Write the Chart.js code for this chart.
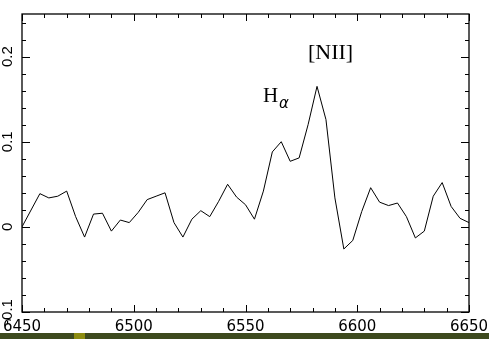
<!DOCTYPE html>
<html>
<head>
<meta charset="utf-8">
<script src="https://cdn.jsdelivr.net/npm/chart.js@4.4.1/dist/chart.umd.min.js"></script>
<style>
  html, body { margin: 0; padding: 0; background: #fff; }
  #wrap { position: relative; width: 489px; height: 339px; }
  #bar { position: absolute; left: 0; top: 333px; width: 489px; height: 6px; background: #3d4a1e; }
  #bar span { position: absolute; left: 74px; width: 11px; height: 6px; background: #8c8c10; }
</style>
</head>
<body>
<div id="wrap">
  <canvas id="chart" width="489" height="339"></canvas>
  <div id="bar"><span></span></div>
</div>
<script>
// wavelength (Angstrom) and flux
const wavelengths = [6450, 6458, 6462, 6466, 6470, 6474, 6478, 6482, 6486, 6490,
  6494, 6498, 6502, 6506, 6510, 6514, 6518, 6522, 6526, 6530,
  6534, 6538, 6542, 6546, 6550, 6554, 6558, 6562, 6566, 6570,
  6574, 6578, 6582, 6586, 6590, 6594, 6598, 6602, 6606, 6610,
  6614, 6618, 6622, 6626, 6630, 6634, 6638, 6642, 6646, 6650];
const flux = [0.0, 0.039, 0.034, 0.036, 0.042, 0.012, -0.012, 0.015, 0.016, -0.005,
  0.008, 0.005, 0.017, 0.032, 0.036, 0.040, 0.005, -0.012, 0.009, 0.019,
  0.012, 0.030, 0.050, 0.035, 0.026, 0.009, 0.042, 0.088, 0.100, 0.077,
  0.081, 0.120, 0.165, 0.126, 0.034, -0.026, -0.016, 0.018, 0.046, 0.029,
  0.025, 0.028, 0.012, -0.013, -0.005, 0.036, 0.052, 0.024, 0.010, 0.005];

const xTicks = [6450, 6500, 6550, 6600, 6650];
const yTicks = [-0.1, 0, 0.1, 0.2];
const yLabels = ["-0.1", "0", "0.1", "0.2"];

// frame, inward ticks and labels, drawn from the chart scales
const framePlugin = {
  id: "frame",
  afterDraw(chart) {
    const ctx = chart.ctx;
    const a = chart.chartArea;
    const xs = chart.scales.x, ys = chart.scales.y;
    ctx.save();
    ctx.strokeStyle = "#000";
    ctx.lineWidth = 1.3;
    ctx.strokeRect(a.left, a.top, a.right - a.left, a.bottom - a.top);

    ctx.lineWidth = 1;
    ctx.beginPath();
    for (let w = 6450; w <= 6650; w += 10) {
      const px = Math.round(xs.getPixelForValue(w)) + 0.5;
      const len = w % 50 === 0 ? 7 : 4;
      ctx.moveTo(px, a.bottom); ctx.lineTo(px, a.bottom - len);
      ctx.moveTo(px, a.top); ctx.lineTo(px, a.top + len);
    }
    for (let i = -5; i <= 12; i++) {
      const v = i * 0.02;
      const py = Math.round(ys.getPixelForValue(v)) + 0.5;
      const len = i % 5 === 0 ? 8 : 4;
      ctx.moveTo(a.left, py); ctx.lineTo(a.left + len, py);
      ctx.moveTo(a.right, py); ctx.lineTo(a.right - len, py);
    }
    ctx.stroke();

    ctx.fillStyle = "#000";
    ctx.textAlign = "center";
    ctx.textBaseline = "middle";
    ctx.font = "15px 'DejaVu Sans', sans-serif";
    xTicks.forEach(w => {
      ctx.fillText(String(w), xs.getPixelForValue(w), 327);
    });
    ctx.font = "15px 'Liberation Sans', Arial, sans-serif";
    yTicks.forEach((v, i) => {
      ctx.save();
      ctx.translate(8, ys.getPixelForValue(v));
      ctx.rotate(-Math.PI / 2);
      ctx.fillText(yLabels[i], 0, 0);
      ctx.restore();
    });

    // line labels
    ctx.textAlign = "left";
    ctx.textBaseline = "alphabetic";
    ctx.font = "22px 'Liberation Serif', 'Times New Roman', serif";
    ctx.fillText("[NII]", 308, 58.5);
    ctx.font = "21px 'Liberation Serif', 'Times New Roman', serif";
    ctx.fillText("H", 263, 101.5);
    ctx.font = "italic 15px 'DejaVu Sans', sans-serif";
    ctx.fillText("\u03b1", 279, 108);
    ctx.restore();
  }
};

new Chart(document.getElementById("chart"), {
  type: "line",
  data: {
    datasets: [{
      data: wavelengths.map((w, i) => ({ x: w, y: flux[i] })),
      borderColor: "#000",
      borderWidth: 1,
      pointRadius: 0,
      tension: 0,
      fill: false
    }]
  },
  options: {
    responsive: false,
    animation: false,
    events: [],
    layout: { padding: { left: 22, top: 14, right: 20, bottom: 27 } },
    plugins: { legend: { display: false }, tooltip: { enabled: false } },
    scales: {
      x: { type: "linear", min: 6450, max: 6650, display: false },
      y: { type: "linear", min: -0.1, max: 0.25, display: false }
    }
  },
  plugins: [framePlugin]
});
</script>
</body>
</html>
